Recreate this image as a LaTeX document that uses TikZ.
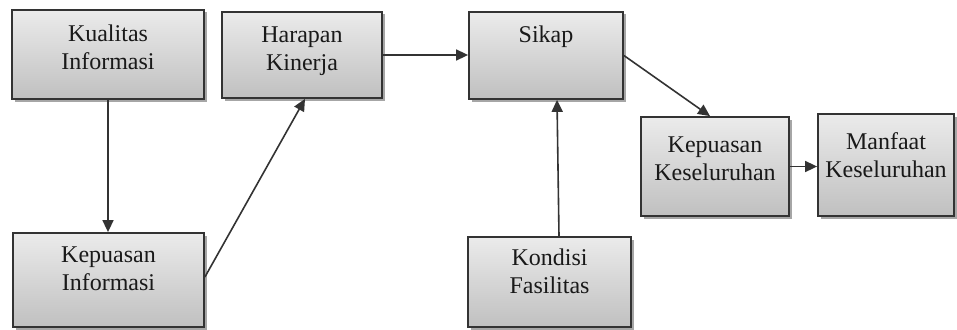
\documentclass[tikz,border=0pt]{standalone}
\usepackage{fontspec}
\setmainfont{Liberation Serif}
\usetikzlibrary{arrows.meta,shadows,calc}
\definecolor{boxtop}{HTML}{EBEBEB}
\definecolor{boxbot}{HTML}{C0C0C0}
\definecolor{boxline}{HTML}{333333}
\tikzset{
  box/.style={rectangle, draw=boxline, line width=1.8pt, top color=boxtop, bottom color=boxbot,
    drop shadow={shadow xshift=2.5pt, shadow yshift=-2.5pt, opacity=0.35, fill=black}},
  lbl/.style={anchor=north, align=center, inner sep=0pt, text=black!90,
    font=\fontsize{24}{28}\selectfont},
  conn/.style={line width=1.6pt, draw=black!80, -{Triangle[length=12pt,width=11pt]}}
}
\begin{document}
\begin{tikzpicture}[x=1pt,y=-1pt]
\useasboundingbox (0,0) rectangle (957,329);
% boxes
\node[box, minimum width=192pt, minimum height=89pt] (kq) at (108,54.5) {};
\node[box, minimum width=160pt, minimum height=86pt] (hk) at (302,55) {};
\node[box, minimum width=191pt, minimum height=94pt] (ki) at (108.5,280) {};
\node[box, minimum width=154pt, minimum height=87pt] (sk) at (546,55.5) {};
\node[box, minimum width=148pt, minimum height=99pt] (kk) at (715,166.5) {};
\node[box, minimum width=136pt, minimum height=102pt] (mk) at (886,165) {};
\node[box, minimum width=163pt, minimum height=90pt] (kf) at (549.5,282) {};
% labels
\node[lbl] (tkq) at ([yshift=-16pt]kq.north) {Kualitas\\Informasi};
\node[lbl] (thk) at ([yshift=-15pt]hk.north) {Harapan\\Kinerja};
\node[lbl] (tki) at ([yshift=-14pt]ki.north) {Kepuasan\\Informasi};
\node[lbl] (tsk) at ([yshift=-15pt]sk.north) {Sikap};
\node[lbl] (tkk) at ([yshift=-20pt]kk.north) {Kepuasan\\Keseluruhan};
\node[lbl] (tmk) at ([yshift=-19pt]mk.north) {Manfaat\\Keseluruhan};
\node[lbl] (tkf) at ([yshift=-13pt]kf.north) {Kondisi\\Fasilitas};
% connectors
\draw[conn] (kq.south) -- (kq.south |- ki.north);
\draw[conn] ([yshift=3pt]ki.east) -- ([xshift=3pt]hk.south);
\draw[conn] (hk.east) -- (hk.east -| sk.west);
\draw[conn] (sk.east) -- ([xshift=-5pt]kk.north);
\draw[conn] (kk.east) -- (kk.east -| mk.west);
\draw[conn] ([xshift=9.5pt]kf.north) -- ([xshift=11pt]sk.south);
\end{tikzpicture}
\end{document}
